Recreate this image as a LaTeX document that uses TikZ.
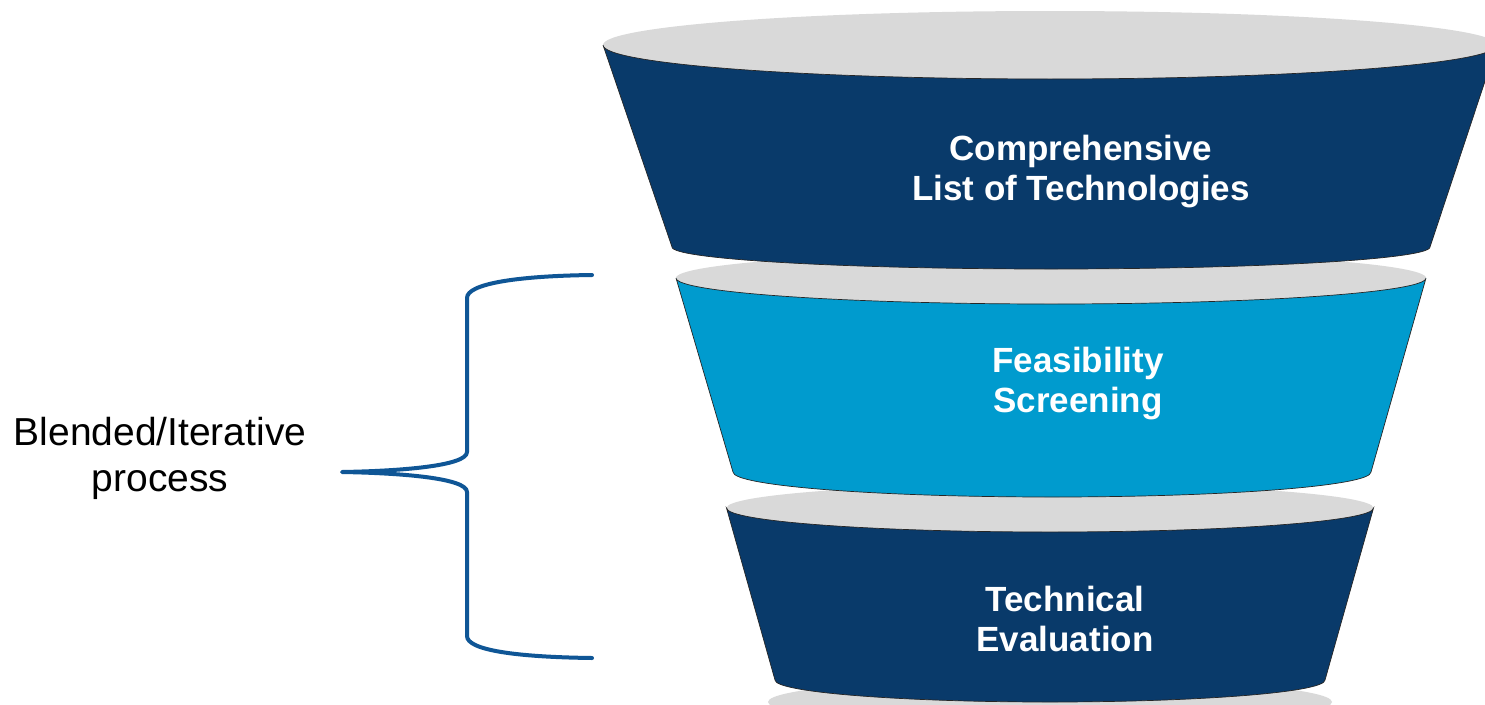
\documentclass[tikz,border=0pt]{standalone}
\usepackage{fontspec}
\setmainfont{Liberation Sans}
\definecolor{navy}{HTML}{093A6A}
\definecolor{skyb}{HTML}{009BCE}
\definecolor{rimgrey}{HTML}{D9D9D9}
\definecolor{bracketblue}{HTML}{0F5696}
\begin{document}
\begin{tikzpicture}[x=1pt,y=-1pt,
  rim/.style={fill=rimgrey},
  bodyfill/.style={draw=black!85,line width=0.7pt,line join=miter},
  stagetext/.style={text=white,font=\fontsize{35}{40}\selectfont\bfseries,align=center},
  sidetext/.style={text=black,font=\fontsize{39}{46}\selectfont,align=center},
  bracketline/.style={draw=bracketblue,line width=4pt,line cap=round,line join=round}]
\clip (0,0) rectangle (1485,704);
\fill[white] (0,0) rectangle (1485,704);
% bottom rim (4th)
\fill[rim] (1050,702) ellipse [x radius=282pt, y radius=24pt];
% segment 3
\fill[rim] (1050,508) ellipse [x radius=323.5pt, y radius=24pt];
\path[bodyfill,fill=navy] (726.5,508) -- (775,680)
  arc[start angle=180,end angle=360,x radius=275pt,y radius=22pt]
  -- (1373.5,508)
  arc[start angle=360,end angle=180,x radius=323.5pt,y radius=24pt] -- cycle;
% segment 2
\fill[rim] (1051,278) ellipse [x radius=375pt, y radius=26pt];
\path[bodyfill,fill=skyb] (676,278) -- (733,472)
  arc[start angle=180,end angle=360,x radius=319pt,y radius=25pt]
  -- (1426,278)
  arc[start angle=360,end angle=180,x radius=375pt,y radius=26pt] -- cycle;
% segment 1
\fill[rim] (1050,45) ellipse [x radius=447pt, y radius=34pt];
\path[bodyfill,fill=navy] (603,45) -- (672,247)
  arc[start angle=180,end angle=360,x radius=379pt,y radius=22pt]
  -- (1497,45)
  arc[start angle=360,end angle=180,x radius=447pt,y radius=34pt] -- cycle;
% texts
\node[stagetext] (s1) at (1081,172) {Comprehensive\\List of Technologies};
\node[stagetext] (s2) at (1078,384) {Feasibility\\Screening};
\node[stagetext] (s3) at (1065,619) {Technical\\Evaluation};
\node[sidetext] (lab) at (160,458) {Blended/Iterative\\process};
% bracket
\coordinate (bt) at (592,275);
\coordinate (bb) at (592,658);
\coordinate (tip) at (342,472);
\draw[bracketline] (bt) .. controls (515,276) and (467,284) .. (467,298)
  -- (467,452) .. controls (467,466) and (400,471) .. (tip)
  .. controls (400,473) and (467,478) .. (467,492)
  -- (467,636) .. controls (467,650) and (515,657) .. (bb);
\end{tikzpicture}
\end{document}
